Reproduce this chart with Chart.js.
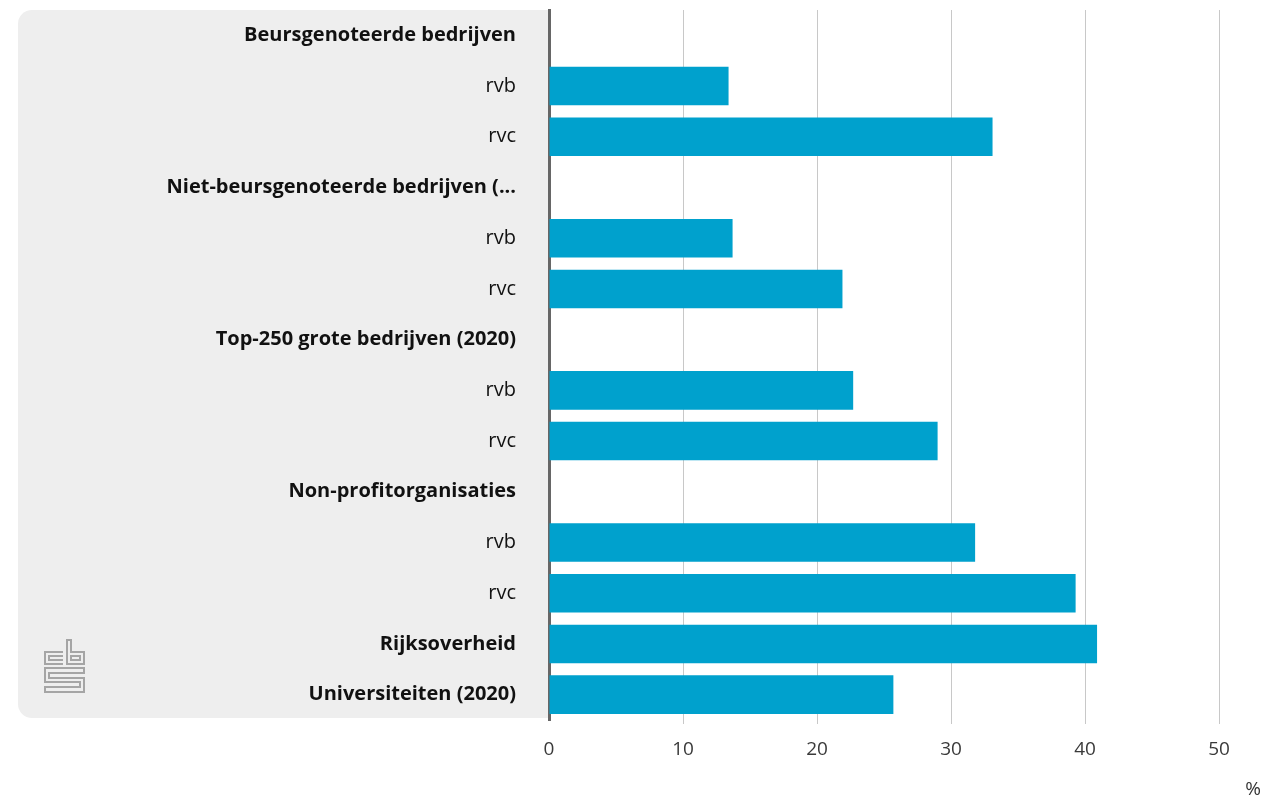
<!DOCTYPE html>
<html>
<head>
<meta charset="utf-8">
<script src="https://cdn.jsdelivr.net/npm/chart.js@4"></script>
<style>
  html, body { margin: 0; padding: 0; background: #fff; }
  #wrap { width: 1281px; height: 800px; position: relative; }
</style>
</head>
<body>
<div id="wrap"><canvas id="chart" width="1281" height="800"></canvas></div>
<script>
// rijen van de grafiek (kopjes hebben geen waarde)
const labels = [
  "Beursgenoteerde bedrijven", "rvb", "rvc",
  "Niet-beursgenoteerde bedrijven (...", "rvb", "rvc",
  "Top-250 grote bedrijven (2020)", "rvb", "rvc",
  "Non-profitorganisaties", "rvb", "rvc",
  "Rijksoverheid", "Universiteiten (2020)"
];
const boldRows = [true, false, false, true, false, false, true, false, false, true, false, false, true, true];
const values = [null, 13.4, 33.1, null, 13.7, 21.9, null, 22.7, 29.0, null, 31.8, 39.3, 40.9, 25.7];
const xTicks = [0, 10, 20, 30, 40, 50];

const FONT = "'Open Sans', 'Noto Sans', sans-serif";

// grijs paneel achter de labels + cbs-logo + eenheid
const panelPlugin = {
  id: "panel",
  beforeDraw(chart) {
    const c = chart.ctx;
    const a = chart.chartArea;
    const x0 = 18, y0 = a.top, x1 = a.left, y1 = a.bottom - 2, r = 14;
    c.save();
    c.fillStyle = "#eeeeee";
    c.beginPath();
    c.moveTo(x1, y0);
    c.lineTo(x0 + r, y0);
    c.arcTo(x0, y0, x0, y0 + r, r);
    c.lineTo(x0, y1 - r);
    c.arcTo(x0, y1, x0 + r, y1, r);
    c.lineTo(x1, y1);
    c.closePath();
    c.fill();

    // logo
    c.strokeStyle = "#a5a5a5";
    c.lineWidth = 2;
    const lx = 45, ly = 640;
    c.beginPath();
    // c
    c.moveTo(lx + 18, ly + 12); c.lineTo(lx, ly + 12); c.lineTo(lx, ly + 24); c.lineTo(lx + 18, ly + 24);
    c.moveTo(lx + 18, ly + 16); c.lineTo(lx + 4, ly + 16); c.lineTo(lx + 4, ly + 20); c.lineTo(lx + 18, ly + 20);
    // b
    c.moveTo(lx + 22, ly); c.lineTo(lx + 22, ly + 24); c.lineTo(lx + 39, ly + 24); c.lineTo(lx + 39, ly + 12); c.lineTo(lx + 26, ly + 12); c.lineTo(lx + 26, ly);
    c.closePath();
    c.rect(lx + 26, ly + 16, 9, 4);
    // s
    c.moveTo(lx + 39, ly + 28); c.lineTo(lx, ly + 28); c.lineTo(lx, ly + 42); c.lineTo(lx + 35, ly + 42); c.lineTo(lx + 35, ly + 47); c.lineTo(lx, ly + 47); c.lineTo(lx, ly + 52); c.lineTo(lx + 39, ly + 52); c.lineTo(lx + 39, ly + 38); c.lineTo(lx + 4, ly + 38); c.lineTo(lx + 4, ly + 33); c.lineTo(lx + 39, ly + 33);
    c.closePath();
    c.stroke();
    c.restore();
  },
  afterDraw(chart) {
    const c = chart.ctx;
    c.save();
    c.font = "19px " + FONT;
    c.fillStyle = "#333";
    c.textAlign = "center";
    c.textBaseline = "middle";
    c.fillText("%", 1253, 790);
    c.restore();
  }
};

new Chart(document.getElementById("chart"), {
  type: "bar",
  data: {
    labels: labels,
    datasets: [{
      data: values,
      backgroundColor: "#00a1cd",
      borderWidth: 0,
      barPercentage: 0.76,
      categoryPercentage: 1
    }]
  },
  options: {
    indexAxis: "y",
    responsive: false,
    animation: false,
    layout: { padding: { top: 10, right: 62, left: 0, bottom: 0 } },
    plugins: { legend: { display: false }, tooltip: { enabled: false } },
    scales: {
      x: {
        min: 0, max: 50,
        afterBuildTicks: s => { s.ticks = xTicks.map(v => ({ value: v })); },
        afterFit: s => { s.height = 80; s.paddingLeft = 0; s.paddingRight = 0; },
        border: { display: false },
        grid: {
          color: ctx => ctx.tick && ctx.tick.value === 0 ? "rgba(0,0,0,0)" : "#c8c8c8",
          lineWidth: 1,
          tickLength: 4
        },
        ticks: { color: "#3a3a3a", padding: 14, font: { family: FONT, size: 19 } }
      },
      y: {
        afterFit: s => { s.width = 549; s.paddingTop = 0; s.paddingBottom = 0; },
        border: { display: true, color: "#666", width: 3 },
        grid: { display: false },
        ticks: {
          color: "#111",
          padding: 25,
          autoSkip: false,
          font: ctx => ({ family: FONT, size: 20, weight: boldRows[ctx.index] ? "bold" : "normal" })
        }
      }
    }
  },
  plugins: [panelPlugin]
});
</script>
</body>
</html>
